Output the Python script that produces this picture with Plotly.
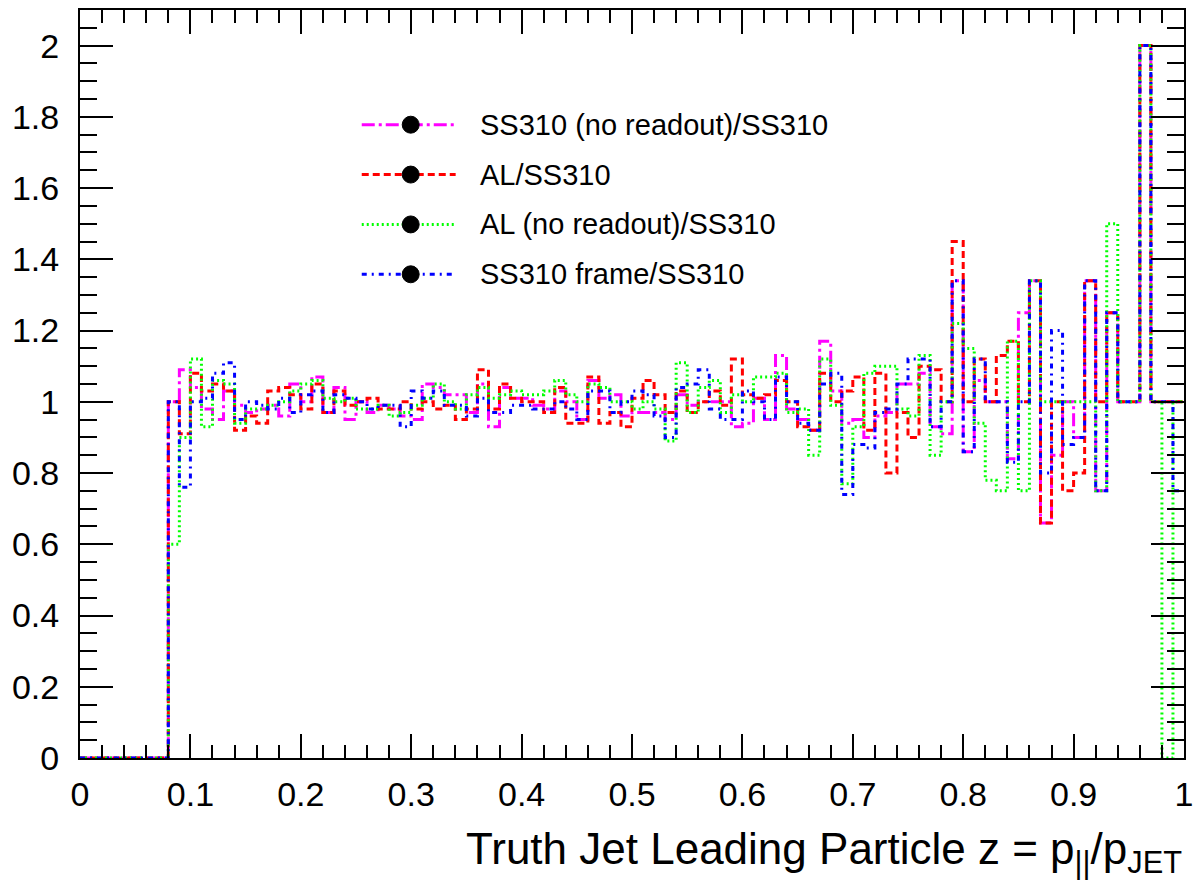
import plotly.graph_objects as go

# ---------------- data (bin contents, 100 bins of width 0.01 on [0,1]) ----------------
bin_edges = [round(i * 0.01, 2) for i in range(101)]

zeros8 = [0.0] * 8

ss310_noreadout = zeros8 + [
    1.00, 1.09, 1.04, 0.98, 0.95, 1.03, 0.99, 0.97, 0.98, 0.99,   # 8-17
    0.96, 1.05, 1.00, 1.07, 0.97, 1.04, 0.95, 1.00, 0.97, 0.99,   # 18-27
    0.98, 0.96, 0.95, 1.05, 1.04, 1.02, 1.02, 0.97, 1.05, 0.93,   # 28-37
    1.04, 1.01, 1.01, 0.99, 0.98, 1.03, 1.00, 0.95, 1.06, 1.01,   # 38-47
    1.02, 0.96, 0.97, 0.97, 0.97, 0.95, 1.02, 0.99, 1.00, 1.00,   # 48-57
    1.00, 0.93, 0.94, 1.01, 0.95, 1.13, 0.98, 0.95, 0.92, 1.17,   # 58-67
    1.03, 0.94, 0.95, 0.90, 0.96, 0.97, 1.05, 1.05, 1.08, 0.93,   # 68-77
    0.91, 1.34, 0.86, 1.06, 1.00, 1.00, 0.84, 1.25, 1.34, 0.66,   # 78-87
    0.85, 1.00, 0.90, 1.34, 0.75, 1.25, 1.00, 1.00, 2.00, 1.00,   # 88-97
    1.00, 1.00]                                                   # 98-99

al = zeros8 + [
    1.00, 0.91, 1.08, 1.03, 1.05, 1.03, 0.92, 0.96, 0.94, 1.03,
    1.04, 1.02, 0.98, 1.05, 0.97, 1.03, 0.99, 1.00, 1.01, 0.98,
    0.98, 1.00, 0.98, 1.00, 0.98, 0.99, 0.95, 0.98, 1.09, 0.98,
    1.05, 1.01, 1.00, 1.00, 0.97, 1.04, 0.94, 0.94, 1.07, 0.94,
    0.97, 0.93, 1.01, 1.06, 1.02, 0.97, 1.03, 0.97, 1.00, 1.03,
    0.99, 1.12, 1.02, 1.01, 1.02, 1.06, 1.00, 0.93, 0.92, 1.08,
    1.00, 1.03, 1.07, 0.92, 1.08, 0.80, 0.97, 0.90, 1.10, 1.09,
    1.00, 1.45, 1.00, 1.12, 1.00, 1.13, 1.17, 1.00, 1.34, 0.66,
    1.00, 0.75, 0.80, 1.34, 1.00, 1.25, 1.00, 1.00, 2.00, 1.00,
    1.00, 1.00]

al_noreadout = zeros8 + [
    0.60, 0.90, 1.12, 0.93, 1.06, 1.05, 0.94, 0.98, 0.98, 0.99,
    1.00, 1.03, 1.05, 1.06, 1.01, 1.00, 1.01, 0.98, 0.98, 0.99,
    0.96, 0.97, 0.99, 1.01, 1.05, 1.00, 0.98, 1.02, 1.04, 1.01,
    1.02, 1.03, 1.02, 1.02, 1.03, 1.06, 1.02, 1.00, 1.05, 1.04,
    1.00, 1.00, 0.98, 1.00, 0.98, 0.89, 1.11, 0.97, 1.04, 1.06,
    0.97, 1.02, 1.00, 1.07, 1.07, 1.08, 0.97, 0.98, 0.85, 1.12,
    0.99, 0.77, 0.93, 1.08, 1.10, 1.10, 0.98, 0.96, 1.13, 0.85,
    1.00, 1.22, 1.15, 0.94, 0.78, 0.75, 1.17, 0.75, 1.34, 1.00,
    1.00, 1.00, 1.00, 1.00, 0.75, 1.50, 1.00, 1.00, 2.00, 1.00,
    0.00, 1.00]

ss310_frame = zeros8 + [
    1.00, 0.76, 1.00, 1.01, 1.08, 1.11, 0.95, 1.00, 0.99, 0.98,
    1.01, 0.97, 1.02, 1.03, 0.97, 1.02, 1.01, 1.00, 0.98, 0.99,
    0.99, 0.93, 1.03, 1.01, 1.03, 0.99, 0.99, 0.96, 1.01, 0.97,
    0.97, 0.99, 0.99, 0.98, 0.98, 1.00, 0.98, 0.95, 1.03, 1.03,
    0.97, 1.00, 1.03, 1.02, 0.96, 0.90, 1.04, 1.05, 1.09, 0.98,
    0.95, 0.95, 1.03, 1.00, 0.95, 1.07, 1.00, 0.94, 0.92, 1.05,
    1.08, 0.74, 0.88, 0.87, 0.97, 0.98, 1.05, 1.12, 1.12, 0.93,
    1.00, 1.34, 0.86, 1.12, 1.00, 1.00, 0.83, 1.00, 1.34, 0.80,
    1.20, 0.88, 0.90, 1.34, 0.75, 1.25, 1.00, 1.00, 2.00, 1.00,
    1.00, 0.75]

series_names = ["SS310 (no readout)/SS310", "AL/SS310",
                "AL (no readout)/SS310", "SS310 frame/SS310"]
series_values = [ss310_noreadout, al, al_noreadout, ss310_frame]
series_colors = ["#ff00ff", "#ff0000", "#00ff00", "#0000ff"]
series_dashes = ["13px,4px,3px,4px", "7px,4px", "2px,3px", "5px,5px,2px,5px"]

x_tick_values = [round(i * 0.1, 1) for i in range(11)]
x_tick_labels = ["0", "0.1", "0.2", "0.3", "0.4", "0.5", "0.6", "0.7", "0.8", "0.9", "1"]
y_tick_values = [round(i * 0.2, 1) for i in range(11)]
y_tick_labels = ["0", "0.2", "0.4", "0.6", "0.8", "1", "1.2", "1.4", "1.6", "1.8", "2"]

FONT = "Liberation Sans, Arial, Helvetica, sans-serif"

fig = go.Figure()
for name, vals, col, dash in zip(series_names, series_values, series_colors, series_dashes):
    fig.add_trace(go.Scatter(
        x=bin_edges, y=vals + [vals[-1]], mode="lines", name=name,
        line=dict(color=col, width=3, dash=dash, shape="hv"),
        showlegend=False, hoverinfo="skip"))

# ---- manual legend (ROOT TLegend style: line with black marker in the middle) ----
W, H = 1201, 895
L, R, T, B = 80, 16, 8, 137
pw, ph = W - L - R, H - T - B

def px_to_paper(x, y):
    return (x - L) / pw, 1 - (y - T) / ph

leg_rows = [123, 173, 223, 273]
shapes = []
annotations = []
for name, col, dash, yrow in zip(series_names, series_colors, series_dashes, leg_rows):
    x0, y0 = px_to_paper(362, yrow)
    x1, _ = px_to_paper(456, yrow)
    shapes.append(dict(type="line", xref="paper", yref="paper", x0=x0, x1=x1, y0=y0, y1=y0,
                       line=dict(color=col, width=3, dash=dash)))
    cx0, cy0 = px_to_paper(411 - 8.5, yrow - 8.5)
    cx1, cy1 = px_to_paper(411 + 8.5, yrow + 8.5)
    shapes.append(dict(type="circle", xref="paper", yref="paper", x0=cx0, x1=cx1, y0=cy1, y1=cy0,
                       fillcolor="black", line=dict(color="black", width=1)))
    tx, ty = px_to_paper(478, yrow)
    annotations.append(dict(text=name, x=tx, y=ty, xref="paper", yref="paper",
                            xanchor="left", yanchor="middle", showarrow=False,
                            font=dict(family=FONT, size=29, color="black")))

# axis title
ax_t_x, ax_t_y = px_to_paper(1185, 852)
annotations.append(dict(
    text="Truth Jet Leading Particle z = p<sub>||</sub>/p<sub>JET</sub>",
    x=1.0, y=ax_t_y, xref="paper", yref="paper", xanchor="right", yanchor="middle",
    showarrow=False, font=dict(family=FONT, size=44, color="black")))

fig.update_layout(
    width=W, height=H,
    margin=dict(l=L, r=R, t=T, b=B, pad=0),
    paper_bgcolor="white", plot_bgcolor="white",
    shapes=shapes, annotations=annotations,
    showlegend=False,
    font=dict(family=FONT, size=34, color="black"),
)
fig.update_xaxes(
    range=[0, 1], tickmode="array", tickvals=x_tick_values, ticktext=x_tick_labels,
    ticks="inside", ticklen=24, tickwidth=2, tickcolor="black",
    minor=dict(dtick=0.02, tick0=0, ticks="inside", ticklen=13, tickwidth=2, tickcolor="black"),
    showline=True, linecolor="black", linewidth=2, mirror="ticks",
    showgrid=False, zeroline=False, ticklabelstandoff=5,
    tickfont=dict(family=FONT, size=34, color="black"))
fig.update_yaxes(
    range=[0, 2.1], tickmode="array", tickvals=y_tick_values, ticktext=y_tick_labels,
    ticks="inside", ticklen=33, tickwidth=2, tickcolor="black",
    minor=dict(dtick=0.05, tick0=0, ticks="inside", ticklen=17, tickwidth=2, tickcolor="black"),
    showline=True, linecolor="black", linewidth=2, mirror="ticks",
    showgrid=False, zeroline=False, ticklabelstandoff=12,
    tickfont=dict(family=FONT, size=34, color="black"))

fig.write_html("out.html")
